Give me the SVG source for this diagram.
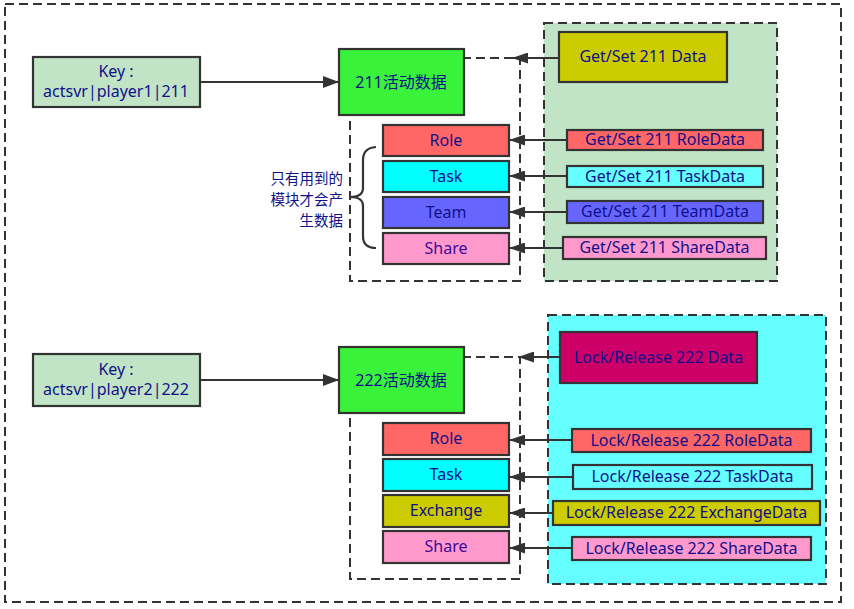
<svg xmlns="http://www.w3.org/2000/svg" width="854" height="609" viewBox="0 0 854 609">
<defs>
<marker id="ah" markerUnits="userSpaceOnUse" markerWidth="16" markerHeight="12" refX="15" refY="6" orient="auto">
<path d="M0,0 L16,6 L0,12 Z" fill="#333"/>
</marker>
<marker id="ahs" markerUnits="userSpaceOnUse" markerWidth="16" markerHeight="11" refX="15" refY="5.5" orient="auto">
<path d="M0,0 L16,5.5 L0,11 Z" fill="#333"/>
</marker>
</defs>
<style>
text{font-family:"Noto Sans","Noto Sans CJK SC",sans-serif;font-size:16px;fill:#10108a;text-anchor:middle;dominant-baseline:central}
.box{stroke:#333;stroke-width:2.2}
.dash{fill:none;stroke:#333;stroke-width:2;stroke-dasharray:9,5}
.conn{stroke:#333;stroke-width:2.2;fill:none}
.note{text-anchor:end;font-size:14.5px}
</style>
<rect class="dash" x="5" y="4" width="836" height="598"/>

<g id="panel211">
<rect x="544" y="23" width="233" height="258" fill="#c2e4c6" stroke="#333" stroke-width="2" stroke-dasharray="9,5"/>
</g>
<g id="panel222">
<rect x="548" y="315" width="278" height="269" fill="#66ffff" stroke="#333" stroke-width="2" stroke-dasharray="9,5"/>
</g>

<g id="container211"><rect class="dash" x="350" y="58" width="170" height="223"/></g>
<g id="container222"><rect class="dash" x="350" y="357" width="170" height="222"/></g>

<g id="connectors">
<line class="conn" x1="200" y1="82" x2="338" y2="82" marker-end="url(#ah)"/>
<line class="conn" x1="200" y1="380" x2="338" y2="380" marker-end="url(#ah)"/>
<line class="conn" x1="559" y1="58" x2="513" y2="58" marker-end="url(#ahs)"/>
<line class="conn" x1="567" y1="140" x2="510" y2="140" marker-end="url(#ahs)"/>
<line class="conn" x1="567" y1="176" x2="510" y2="176" marker-end="url(#ahs)"/>
<line class="conn" x1="567" y1="212" x2="510" y2="212" marker-end="url(#ahs)"/>
<line class="conn" x1="563" y1="248" x2="510" y2="248" marker-end="url(#ahs)"/>
<line class="conn" x1="560" y1="357" x2="519" y2="357" marker-end="url(#ahs)"/>
<line class="conn" x1="572" y1="440" x2="510" y2="440" marker-end="url(#ahs)"/>
<line class="conn" x1="573" y1="477" x2="510" y2="477" marker-end="url(#ahs)"/>
<line class="conn" x1="553" y1="513" x2="510" y2="513" marker-end="url(#ahs)"/>
<line class="conn" x1="572" y1="548" x2="510" y2="548" marker-end="url(#ahs)"/>
</g>

<g id="key1"><rect class="box" x="33" y="57" width="167" height="50" fill="#c2e4c6"/><text x="116" y="71">Key :</text><text x="116" y="91">actsvr|player1|211</text></g>
<g id="act211"><rect class="box" x="339" y="49" width="125" height="66" fill="#3af23a"/><text x="401" y="82">211活动数据</text></g>
<g id="role1"><rect class="box" x="383" y="125" width="126" height="31" fill="#ff6666"/><text x="446" y="139.5">Role</text></g>
<g id="task1"><rect class="box" x="383" y="161" width="126" height="31" fill="#00ffff"/><text x="446" y="175.5">Task</text></g>
<g id="team1"><rect class="box" x="383" y="197" width="126" height="31" fill="#6666ff"/><text x="446" y="211.5">Team</text></g>
<g id="share1"><rect class="box" x="383" y="233" width="126" height="31" fill="#ff99cc"/><text x="446" y="247.5" style="fill:#3a0a99">Share</text></g>

<g id="brace1">
<path class="conn" d="M376,147 Q363,148 363,160 L363,188 Q363,197 350,197 Q363,197 363,206 L363,236 Q363,248 376,248"/>
<text class="note" x="343" y="178">只有用到的</text>
<text class="note" x="343" y="199">模块才会产</text>
<text class="note" x="343" y="220">生数据</text>
</g>

<g id="gs211"><rect class="box" x="559" y="32" width="168" height="50" fill="#cccc00"/><text x="643" y="56">Get/Set 211 Data</text></g>
<g id="gsRole"><rect class="box" x="567" y="130" width="196" height="20" fill="#ff6666"/><text x="665" y="139">Get/Set 211 RoleData</text></g>
<g id="gsTask"><rect class="box" x="567" y="166" width="196" height="21" fill="#66ffff"/><text x="665" y="175.5">Get/Set 211 TaskData</text></g>
<g id="gsTeam"><rect class="box" x="567" y="201" width="196" height="22" fill="#6666ff"/><text x="665" y="211">Get/Set 211 TeamData</text></g>
<g id="gsShare"><rect class="box" x="563" y="237" width="203" height="22" fill="#ff99cc"/><text x="664.5" y="247">Get/Set 211 ShareData</text></g>

<g id="key2"><rect class="box" x="33" y="354" width="167" height="52" fill="#c2e4c6"/><text x="116" y="369">Key :</text><text x="116" y="389">actsvr|player2|222</text></g>
<g id="act222"><rect class="box" x="339" y="347" width="125" height="66" fill="#3af23a"/><text x="401" y="380">222活动数据</text></g>
<g id="role2"><rect class="box" x="383" y="423" width="126" height="32" fill="#ff6666"/><text x="446" y="438">Role</text></g>
<g id="task2"><rect class="box" x="383" y="459" width="126" height="32" fill="#00ffff"/><text x="446" y="474">Task</text></g>
<g id="exch2"><rect class="box" x="383" y="495" width="126" height="32" fill="#cccc00"/><text x="446" y="510">Exchange</text></g>
<g id="share2"><rect class="box" x="383" y="531" width="126" height="32" fill="#ff99cc"/><text x="446" y="546" style="fill:#3a0a99">Share</text></g>

<g id="lr222"><rect class="box" x="560" y="332" width="197" height="51" fill="#cc0066"/><text x="658.5" y="356.5">Lock/Release 222 Data</text></g>
<g id="lrRole"><rect class="box" x="572" y="429" width="239" height="23" fill="#ff6666"/><text x="691.5" y="439.5">Lock/Release 222 RoleData</text></g>
<g id="lrTask"><rect class="box" x="573" y="465" width="239" height="24" fill="#66ffff"/><text x="692.5" y="476">Lock/Release 222 TaskData</text></g>
<g id="lrExch"><rect class="box" x="553" y="501" width="267" height="24" fill="#cccc00"/><text x="686.5" y="512">Lock/Release 222 ExchangeData</text></g>
<g id="lrShare"><rect class="box" x="572" y="537" width="239" height="23" fill="#ff99cc"/><text x="691.5" y="547.5">Lock/Release 222 ShareData</text></g>
</svg>
